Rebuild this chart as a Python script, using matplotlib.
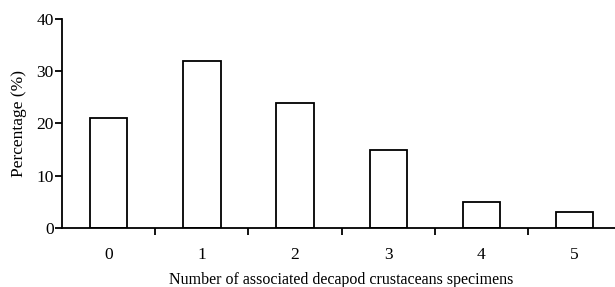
import matplotlib
matplotlib.use('Agg')
import matplotlib.pyplot as plt
import numpy as np

# data
categories = ['0', '1', '2', '3', '4', '5']
percentages = [21, 32, 24, 15, 5, 3]
y_ticks = [0, 10, 20, 30, 40]

plt.rcParams['font.family'] = ['Liberation Serif', 'DejaVu Serif']

fig = plt.figure(figsize=(6.15, 2.87), dpi=100)
# axes runs a little past the right edge, as in the reference
ax = fig.add_axes([0.101, 0.206, 0.909, 0.728])

x = np.arange(len(categories))
ax.bar(x, percentages, width=0.4, color='white', edgecolor='black', linewidth=1.3)

ax.set_xlim(-0.5, len(categories) - 0.5)
ax.set_ylim(0, 40)
ax.set_yticks(y_ticks)
ax.set_xticks(x)
ax.set_xticklabels(categories)
# small ticks between categories
ax.set_xticks(np.arange(0.5, len(categories) - 0.5, 1), minor=True)
ax.tick_params(axis='x', which='major', length=0, pad=14, labelsize=12.5)
ax.tick_params(axis='x', which='minor', length=5, width=1.3, direction='out')
ax.tick_params(axis='y', length=5, width=1.3, direction='out', pad=1, labelsize=12.5)

for s in ['top', 'right']:
    ax.spines[s].set_visible(False)
for s in ['left', 'bottom']:
    ax.spines[s].set_linewidth(1.3)

ax.set_xlabel('Number of associated decapod crustaceans specimens', fontsize=11.5, labelpad=6)
ax.set_ylabel('Percentage (%)', fontsize=12.5, labelpad=7)

fig.savefig('out.png', dpi=100)
